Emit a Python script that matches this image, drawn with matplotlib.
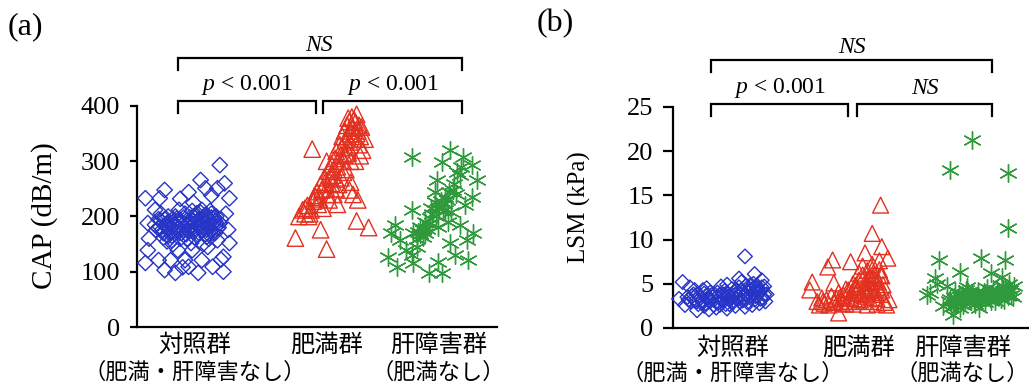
import matplotlib
matplotlib.use("Agg")
import matplotlib.pyplot as plt

plt.rcParams['mathtext.fontset'] = 'custom'
plt.rcParams['mathtext.rm'] = 'Liberation Serif'
plt.rcParams['mathtext.it'] = 'Liberation Serif:italic'

SERIF = 'Liberation Serif'
CJK = ['Noto Sans CJK JP', 'DejaVu Sans']

group_names = ['対照群', '肥満群', '肝障害群']
group_notes = ['（肥満・肝障害なし）', '', '（肥満なし）']

# ---- (a) CAP values (dB/m), x = horizontal spread ----
cap_ctrl = [
    (0.69, 293), (0.07, 233), (0.23, 248), (0.19, 233), (0.43, 244), (0.53, 266), (0.57, 251),
    (0.67, 251), (0.73, 260), (0.77, 233), (0.09, 188), (0.09, 139), (0.07, 116), (0.18, 121),
    (0.23, 103), (0.32, 98), (0.43, 109), (0.51, 98), (0.63, 109), (0.72, 100), (0.72, 127),
    (0.77, 152), (0.76, 176), (0.34, 139), (0.46, 139), (0.29, 157), (0.59, 145), (0.67, 157),
    (0.28, 121), (0.40, 121), (0.54, 121), (0.10, 160), (0.16, 175), (0.36, 232), (0.62, 238),
    (0.47, 225), (0.15, 212), (0.74, 205), (0.70, 122), (0.38, 108),
    (0.15, 185), (0.18, 178), (0.20, 192), (0.22, 170), (0.24, 186), (0.26, 200), (0.27, 176),
    (0.29, 165), (0.30, 190), (0.32, 181), (0.33, 172), (0.35, 195), (0.36, 160), (0.38, 185),
    (0.39, 176), (0.40, 205), (0.41, 168), (0.43, 190), (0.44, 198), (0.45, 180), (0.46, 210),
    (0.47, 172), (0.48, 188), (0.49, 200), (0.50, 165), (0.51, 193), (0.52, 182), (0.53, 207),
    (0.54, 175), (0.55, 196), (0.56, 188), (0.57, 168), (0.58, 200), (0.59, 181), (0.60, 192),
    (0.61, 210), (0.62, 176), (0.63, 186), (0.64, 198), (0.65, 170), (0.66, 188), (0.68, 180),
    (0.70, 195), (0.25, 155), (0.45, 152), (0.55, 150), (0.35, 212), (0.20, 205), (0.30, 150),
    (0.60, 160),
    (0.19, 182), (0.21, 176), (0.23, 195), (0.25, 180), (0.27, 190), (0.28, 171), (0.31, 186),
    (0.33, 196), (0.34, 178), (0.36, 189), (0.37, 170), (0.39, 198), (0.42, 184), (0.44, 174),
    (0.46, 193), (0.48, 178), (0.50, 206), (0.51, 185), (0.53, 195), (0.55, 180), (0.57, 203),
    (0.58, 176), (0.60, 186), (0.62, 198), (0.63, 170), (0.65, 192), (0.67, 178), (0.69, 188),
    (0.42, 160), (0.48, 162), (0.52, 170), (0.58, 163), (0.22, 162), (0.26, 165), (0.32, 200),
    (0.47, 200), (0.54, 212), (0.62, 205), (0.66, 200), (0.18, 195),
]
cap_obese = [
    (1.46, 322), (1.32, 161), (1.53, 176), (1.58, 141), (1.83, 192), (1.93, 180), (1.67, 222),
    (1.84, 230), (1.77, 248), (1.55, 215), (1.48, 238), (1.62, 260), (1.40, 205), (1.35, 200),
    (1.38, 212), (1.42, 220), (1.44, 205), (1.47, 228), (1.50, 245), (1.52, 232), (1.53, 258),
    (1.56, 270), (1.58, 250), (1.60, 282), (1.62, 295), (1.63, 275), (1.65, 305), (1.66, 318),
    (1.67, 290), (1.69, 330), (1.70, 312), (1.71, 345), (1.72, 300), (1.73, 355), (1.74, 338),
    (1.75, 365), (1.76, 325), (1.77, 372), (1.78, 350), (1.79, 380), (1.80, 360), (1.81, 340),
    (1.82, 370), (1.83, 385), (1.84, 355), (1.85, 330), (1.86, 345), (1.87, 362), (1.88, 320),
    (1.90, 340), (1.70, 270), (1.74, 285), (1.78, 262), (1.80, 240), (1.68, 258), (1.82, 300),
    (1.64, 240), (1.86, 310), (1.58, 300), (1.76, 315),
    (1.40, 215), (1.45, 212), (1.49, 235), (1.51, 222), (1.54, 248), (1.57, 262), (1.59, 240),
    (1.61, 272), (1.64, 285), (1.66, 268), (1.68, 300), (1.71, 325), (1.73, 310), (1.75, 345),
    (1.77, 335), (1.79, 360), (1.81, 375), (1.83, 350), (1.85, 365), (1.78, 300), (1.72, 280),
    (1.66, 250), (1.60, 230), (1.43, 200), (1.76, 378),
]
cap_liver = [
    (2.29, 308), (2.61, 320), (2.54, 299), (2.72, 308), (2.79, 293), (2.83, 266), (2.79, 235),
    (2.73, 221), (2.62, 208), (2.57, 235), (2.48, 226), (2.44, 197), (2.36, 181), (2.29, 212),
    (2.15, 185), (2.19, 157), (2.38, 163), (2.51, 181), (2.61, 152), (2.80, 170), (2.75, 157),
    (2.65, 130), (2.76, 121), (2.09, 127), (2.17, 109), (2.29, 130), (2.30, 116), (2.43, 98),
    (2.54, 98), (2.51, 118), (2.59, 190), (2.69, 185), (2.63, 248), (2.69, 275), (2.50, 266),
    (2.40, 170), (2.34, 172), (2.42, 178), (2.46, 205), (2.52, 215), (2.56, 222), (2.66, 240),
    (2.58, 230), (2.70, 290), (2.24, 140), (2.33, 145), (2.12, 170),
    (2.40, 190), (2.45, 215), (2.49, 200), (2.53, 228), (2.55, 210), (2.60, 245), (2.64, 258),
    (2.38, 175), (2.36, 168), (2.33, 160), (2.43, 186), (2.57, 212), (2.48, 245), (2.67, 280),
    (2.30, 170),
]

# ---- (b) LSM values (kPa) ----
lsm_ctrl = [
    (0.08, 5.2), (0.14, 4.6), (0.60, 8.1), (0.68, 6.1), (0.74, 5.4), (0.05, 3.3), (0.10, 2.6),
    (0.20, 2.0), (0.30, 2.1), (0.45, 2.2), (0.60, 2.4), (0.72, 2.8), (0.78, 3.8), (0.70, 4.8),
    (0.55, 5.6), (0.40, 4.7), (0.25, 4.3),
    (0.12, 3.5), (0.15, 3.0), (0.17, 3.8), (0.19, 3.2), (0.21, 2.7), (0.22, 3.6), (0.24, 3.1),
    (0.26, 3.9), (0.27, 2.8), (0.29, 3.4), (0.31, 3.0), (0.32, 3.7), (0.34, 2.6), (0.35, 3.3),
    (0.37, 4.0), (0.38, 2.9), (0.40, 3.5), (0.41, 3.1), (0.43, 4.2), (0.44, 2.7), (0.46, 3.6),
    (0.47, 3.2), (0.49, 4.4), (0.50, 2.9), (0.52, 3.8), (0.53, 3.3), (0.55, 4.6), (0.56, 3.0),
    (0.58, 4.1), (0.59, 3.5), (0.61, 4.8), (0.62, 2.9), (0.64, 4.3), (0.65, 3.7), (0.67, 5.0),
    (0.68, 3.2), (0.70, 4.5), (0.71, 3.9), (0.73, 4.2), (0.75, 3.4), (0.76, 4.7), (0.77, 3.0),
    (0.18, 4.3), (0.28, 4.5), (0.45, 4.9), (0.57, 5.2), (0.36, 2.3), (0.52, 2.5), (0.66, 2.6),
    (0.13, 3.2), (0.16, 3.6), (0.20, 3.0), (0.23, 3.4), (0.25, 2.9), (0.28, 3.7), (0.30, 3.2),
    (0.33, 3.5), (0.36, 3.0), (0.39, 3.8), (0.42, 3.3), (0.45, 4.0), (0.48, 3.5), (0.51, 4.1),
    (0.54, 3.6), (0.57, 4.3), (0.60, 3.8), (0.63, 4.0), (0.66, 4.4), (0.69, 3.6), (0.72, 4.0),
    (0.74, 4.6), (0.76, 3.8), (0.31, 4.0), (0.42, 3.8), (0.53, 4.3), (0.64, 4.8), (0.70, 4.2),
    (0.47, 2.7), (0.58, 3.1), (0.20, 3.8), (0.26, 2.5), (0.39, 2.6), (0.61, 3.3), (0.73, 3.3),
]
lsm_obese = [
    (1.73, 13.9), (1.66, 10.7), (1.33, 7.7), (1.48, 7.5), (1.14, 4.3), (1.38, 1.7), (1.74, 9.2),
    (1.79, 7.9), (1.29, 6.9), (1.16, 5.2), (1.34, 5.1), (1.72, 6.6), (1.80, 3.2), (1.78, 2.6),
    (1.60, 8.5), (1.55, 6.2), (1.44, 4.4),
    (1.20, 3.0), (1.22, 2.6), (1.24, 3.4), (1.26, 2.8), (1.28, 3.2), (1.30, 2.6), (1.32, 3.6),
    (1.34, 2.9), (1.36, 3.3), (1.38, 4.0), (1.40, 3.0), (1.42, 3.7), (1.44, 2.7), (1.46, 4.3),
    (1.48, 3.4), (1.50, 5.0), (1.52, 3.9), (1.53, 4.6), (1.55, 5.4), (1.56, 3.2), (1.58, 6.0),
    (1.59, 4.4), (1.60, 5.1), (1.61, 3.6), (1.62, 6.5), (1.63, 4.8), (1.64, 5.7), (1.65, 3.0),
    (1.66, 7.2), (1.67, 4.2), (1.68, 6.1), (1.69, 5.3), (1.70, 2.7), (1.71, 4.6), (1.72, 7.6),
    (1.73, 3.8), (1.74, 5.9), (1.75, 4.9), (1.76, 2.9), (1.62, 2.6), (1.50, 2.7), (1.58, 7.0),
    (1.35, 3.0), (1.39, 3.4), (1.41, 2.8), (1.45, 3.6), (1.47, 3.0), (1.49, 4.0), (1.51, 3.3),
    (1.54, 4.2), (1.57, 3.8), (1.60, 4.6), (1.63, 5.2), (1.65, 4.4), (1.67, 5.6), (1.69, 4.0),
    (1.71, 5.2), (1.73, 6.0), (1.58, 5.5), (1.62, 4.0), (1.55, 3.0), (1.68, 3.4), (1.74, 4.3),
    (1.52, 4.8), (1.66, 6.6), (1.70, 3.3), (1.25, 3.0),
]
lsm_liver = [
    (2.31, 17.9), (2.79, 17.5), (2.79, 11.3), (2.49, 21.3), (2.22, 7.7), (2.57, 7.9), (2.77, 7.7),
    (2.74, 5.8), (2.18, 5.7), (2.39, 6.3), (2.14, 4.0), (2.12, 3.7), (2.33, 1.5), (2.28, 4.7),
    (2.25, 2.5), (2.83, 3.5), (2.84, 4.8), (2.65, 6.2), (2.20, 5.0),
    (2.30, 3.0), (2.32, 2.4), (2.34, 3.5), (2.36, 2.8), (2.38, 3.9), (2.40, 3.2), (2.42, 2.6),
    (2.44, 3.7), (2.46, 4.1), (2.48, 3.0), (2.50, 3.5), (2.52, 2.7), (2.54, 4.2), (2.56, 3.3),
    (2.58, 3.8), (2.60, 2.9), (2.62, 4.5), (2.64, 3.4), (2.66, 3.9), (2.68, 3.1), (2.70, 4.3),
    (2.72, 3.6), (2.74, 4.8), (2.76, 3.2), (2.78, 4.0), (2.80, 5.0), (2.82, 3.7), (2.45, 4.6),
    (2.35, 4.2), (2.55, 2.3),
    (2.31, 3.3), (2.35, 2.6), (2.37, 3.2), (2.41, 3.6), (2.43, 3.0), (2.47, 3.4), (2.49, 3.9),
    (2.51, 3.1), (2.53, 3.6), (2.57, 3.0), (2.59, 4.1), (2.61, 3.5), (2.63, 3.9), (2.65, 3.1),
    (2.67, 4.4), (2.69, 3.7), (2.71, 4.0), (2.73, 3.3), (2.75, 4.2), (2.77, 4.6), (2.79, 3.6),
    (2.81, 4.3), (2.39, 2.3), (2.44, 4.3), (2.34, 3.0),
]

BLUE = '#2634c8'
RED = '#e3301f'
GREEN = '#2f9a3c'
ASTERISK = (6, 2, 0)


def scatter_group(ax, pts, marker, color, size):
    xs = [p[0] for p in pts]
    ys = [p[1] for p in pts]
    face = color if marker == ASTERISK else 'none'
    ax.scatter(xs, ys, marker=marker, s=size, facecolors=face,
               edgecolors=color, linewidths=1.0, clip_on=False, zorder=3)


def bracket(ax, x0, x1, y, tip):
    ax.plot([x0, x0, x1, x1], [tip, y, y, tip], color='black', lw=1.6,
            clip_on=False, solid_joinstyle='miter')


def setup_axis(ax, ymax_tick, top, yticks, xticks, ticklen, off1, off2):
    ax.set_xlim(0, 3)
    ax.set_ylim(0, top)
    for s in ['top', 'right']:
        ax.spines[s].set_visible(False)
    ax.spines['left'].set_bounds(0, ymax_tick)
    ax.spines['left'].set_linewidth(1.6)
    ax.spines['bottom'].set_linewidth(1.6)
    ax.set_yticks(yticks)
    ax.set_yticklabels([str(t) for t in yticks], fontfamily=SERIF, fontsize=19)
    ax.tick_params(axis='y', length=ticklen, width=1.6, pad=7)
    ax.set_xticks([])
    # two-line category labels
    for x, name, note in zip(xticks, group_names, group_notes):
        ax.annotate(name, xy=(x, 0), xycoords=('data', 'axes fraction'),
                    xytext=(0, -off1), textcoords='offset pixels',
                    ha='center', va='center', fontfamily=CJK, fontsize=17.5)
        if note:
            ax.annotate(note, xy=(x, 0), xycoords=('data', 'axes fraction'),
                        xytext=(0, -off2), textcoords='offset pixels',
                        ha='center', va='center', fontfamily=CJK, fontsize=16)


fig = plt.figure(figsize=(10.29, 3.85), dpi=100)

# ---------------- panel (a) ----------------
ax1 = fig.add_axes([137 / 1029, 1 - 327 / 385, 360 / 1029, 317 / 385])
setup_axis(ax1, 400, 400 * 317 / 221, [0, 100, 200, 300, 400], [0.48, 1.58, 2.51], 5, 18, 45)
fig.text(45 / 1029, 1 - 216 / 385, 'CAP (dB/m)', fontfamily=SERIF, fontsize=21,
         rotation=90, ha='center', va='center')
scatter_group(ax1, cap_ctrl, 'D', BLUE, 62)
scatter_group(ax1, cap_obese, '^', RED, 140)
scatter_group(ax1, cap_liver, ASTERISK, GREEN, 160)
bracket(ax1, 0.34, 2.71, 487, 465)
bracket(ax1, 0.34, 1.49, 409, 387)
bracket(ax1, 1.55, 2.71, 409, 387)
ax1.text(1.52, 510, 'NS', fontfamily=SERIF, style='italic', fontsize=17, ha='center', va='center')
ax1.text(0.92, 438, r'$p$ < 0.001', fontfamily=SERIF, fontsize=17, ha='center', va='center')
ax1.text(2.13, 438, r'$p$ < 0.001', fontfamily=SERIF, fontsize=17, ha='center', va='center')
fig.text(8 / 1029, 1 - 27 / 385, '(a)', fontfamily=SERIF, fontsize=23, ha='left', va='center')

# ---------------- panel (b) ----------------
ax2 = fig.add_axes([673 / 1029, 1 - 328 / 385, 360 / 1029, 318 / 385])
setup_axis(ax2, 25, 25 * 318 / 221, [0, 5, 10, 15, 20, 25], [0.50, 1.55, 2.41], 7, 20, 45)
fig.text(579 / 1029, 1 - 207 / 385, 'LSM (kPa)', fontfamily=SERIF, fontsize=18,
         rotation=90, ha='center', va='center')
scatter_group(ax2, lsm_ctrl, 'D', BLUE, 55)
scatter_group(ax2, lsm_obese, '^', RED, 130)
scatter_group(ax2, lsm_liver, ASTERISK, GREEN, 160)
bracket(ax2, 0.32, 2.66, 30.3, 29.0)
bracket(ax2, 0.32, 1.46, 25.3, 24.0)
bracket(ax2, 1.53, 2.66, 25.3, 24.0)
ax2.text(1.49, 31.7, 'NS', fontfamily=SERIF, style='italic', fontsize=17, ha='center', va='center')
ax2.text(0.89, 27.1, r'$p$ < 0.001', fontfamily=SERIF, fontsize=17, ha='center', va='center')
ax2.text(2.10, 27.1, 'NS', fontfamily=SERIF, style='italic', fontsize=17, ha='center', va='center')
fig.text(537 / 1029, 1 - 24 / 385, '(b)', fontfamily=SERIF, fontsize=23, ha='left', va='center')

fig.savefig('out.png', dpi=100)
